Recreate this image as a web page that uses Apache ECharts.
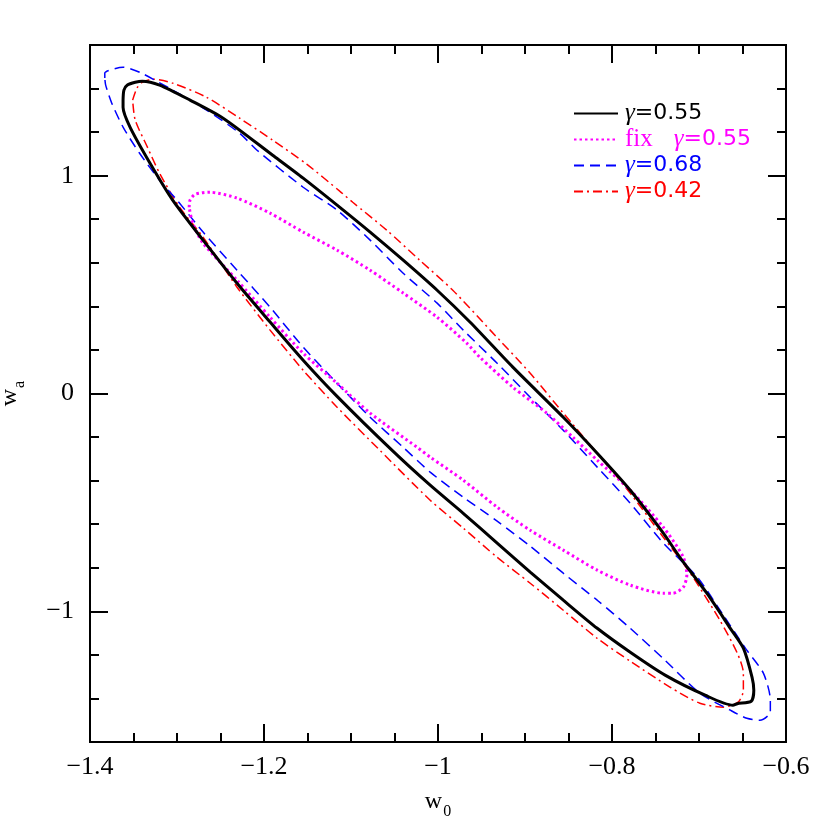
<!DOCTYPE html>
<html>
<head>
<meta charset="utf-8">
<script src="https://cdn.jsdelivr.net/npm/echarts@6/dist/echarts.min.js"></script>
<style>
  html, body { margin: 0; padding: 0; background: #fff; }
  #chart { width: 830px; height: 830px; }
</style>
</head>
<body>
<div id="chart"></div>
<script>
// contour labels (legend order)
const names = ['γ=0.55', 'fix γ=0.55', 'γ=0.68', 'γ=0.42']
const colors = ['#000000', '#ff00ff', '#0000ff', '#ff0000']

// gamma = 0.55 (solid black)
const g055_w0 = [-1.362, -1.361, -1.357, -1.348, -1.340, -1.320, -1.285, -1.247, -1.190, -1.155, -1.116, -1.078, -1.040, -1.001, -0.963, -0.914, -0.856, -0.817, -0.779, -0.741, -0.722, -0.691, -0.664, -0.649, -0.639, -0.637, -0.640, -0.656, -0.661, -0.693, -0.739, -0.779, -0.817, -0.856, -0.894, -0.932, -0.971, -1.009, -1.053, -1.116, -1.155, -1.193, -1.231, -1.270, -1.305, -1.331, -1.354, -1.362, -1.362]
const g055_wa = [1.347, 1.393, 1.416, 1.429, 1.434, 1.416, 1.347, 1.264, 1.094, 0.989, 0.865, 0.741, 0.612, 0.474, 0.327, 0.121, -0.109, -0.274, -0.444, -0.641, -0.752, -0.917, -1.078, -1.169, -1.303, -1.362, -1.413, -1.424, -1.431, -1.385, -1.293, -1.188, -1.078, -0.949, -0.820, -0.687, -0.550, -0.421, -0.260, -0.013, 0.153, 0.328, 0.506, 0.704, 0.888, 1.057, 1.223, 1.314, 1.347]

// fixed gamma = 0.55 (dotted magenta)
const fix_w0 = [-1.286, -1.285, -1.279, -1.262, -1.231, -1.193, -1.155, -1.116, -1.078, -1.040, -1.001, -0.967, -0.952, -0.914, -0.875, -0.845, -0.817, -0.779, -0.741, -0.718, -0.714, -0.718, -0.730, -0.741, -0.779, -0.817, -0.856, -0.894, -0.932, -0.971, -1.009, -1.024, -1.078, -1.116, -1.155, -1.193, -1.231, -1.270, -1.282, -1.286]
const fix_wa = [0.855, 0.888, 0.915, 0.924, 0.897, 0.828, 0.741, 0.658, 0.566, 0.461, 0.350, 0.231, 0.167, 0.029, -0.090, -0.201, -0.306, -0.444, -0.614, -0.752, -0.834, -0.889, -0.917, -0.917, -0.880, -0.811, -0.719, -0.628, -0.522, -0.398, -0.292, -0.247, -0.090, 0.047, 0.185, 0.350, 0.520, 0.690, 0.782, 0.855]

// gamma = 0.68 (dashed blue)
const g068_w0 = [-1.383, -1.383, -1.362, -1.343, -1.305, -1.266, -1.228, -1.208, -1.155, -1.116, -1.078, -1.040, -1.001, -0.971, -0.932, -0.894, -0.856, -0.817, -0.779, -0.741, -0.702, -0.672, -0.645, -0.626, -0.618, -0.618, -0.630, -0.645, -0.664, -0.699, -0.739, -0.779, -0.817, -0.856, -0.894, -0.932, -0.971, -1.009, -1.040, -1.078, -1.116, -1.155, -1.193, -1.231, -1.270, -1.300, -1.320, -1.343, -1.362, -1.375, -1.382, -1.383]
const g068_wa = [1.448, 1.471, 1.498, 1.475, 1.393, 1.301, 1.195, 1.117, 0.947, 0.842, 0.704, 0.552, 0.415, 0.291, 0.139, -0.017, -0.169, -0.338, -0.504, -0.687, -0.843, -1.018, -1.179, -1.284, -1.408, -1.463, -1.500, -1.491, -1.454, -1.376, -1.225, -1.078, -0.949, -0.825, -0.701, -0.586, -0.476, -0.361, -0.247, -0.109, 0.047, 0.213, 0.396, 0.566, 0.741, 0.888, 0.979, 1.103, 1.223, 1.333, 1.416, 1.448]

// gamma = 0.42 (dash-dot red)
const g042_w0 = [-1.351, -1.346, -1.340, -1.328, -1.305, -1.266, -1.228, -1.190, -1.151, -1.113, -1.098, -1.059, -1.021, -0.983, -0.940, -0.894, -0.856, -0.817, -0.779, -0.741, -0.710, -0.676, -0.656, -0.649, -0.649, -0.655, -0.672, -0.699, -0.733, -0.779, -0.817, -0.856, -0.894, -0.932, -0.971, -1.009, -1.067, -1.116, -1.155, -1.193, -1.231, -1.270, -1.297, -1.320, -1.334, -1.348, -1.351]
const g042_wa = [1.347, 1.402, 1.429, 1.443, 1.425, 1.360, 1.264, 1.163, 1.053, 0.929, 0.878, 0.750, 0.612, 0.474, 0.291, 0.093, -0.090, -0.274, -0.458, -0.660, -0.825, -1.041, -1.192, -1.284, -1.362, -1.417, -1.440, -1.422, -1.349, -1.229, -1.124, -0.995, -0.871, -0.752, -0.618, -0.490, -0.260, -0.063, 0.107, 0.291, 0.488, 0.718, 0.855, 1.011, 1.131, 1.255, 1.347]

// axis ticks
const xTicks = [-1.4, -1.2, -1.0, -0.8, -0.6]
const yMajor = [-1, 0, 1]
const yMinor = [-1.4, -1.2, -0.8, -0.6, -0.4, -0.2, 0.2, 0.4, 0.6, 0.8, 1.2, 1.4]

const zip = (xs, ys) => xs.map((x, i) => [x, ys[i]])
const numFont = 'Liberation Serif'
const minus = (v) => String(Math.round(v * 10) / 10).replace('-', '\u2212')

const lineStyles = [
  { color: colors[0], width: 3, type: 'solid' },
  { color: colors[1], width: 3, type: [2.5, 3] },
  { color: colors[2], width: 1.5, type: [10, 6] },
  { color: colors[3], width: 1.5, type: [9, 4, 2, 4] }
]
const curves = [zip(g055_w0, g055_wa), zip(fix_w0, fix_wa), zip(g068_w0, g068_wa), zip(g042_w0, g042_wa)]

const axisLine = { show: true, onZero: false, lineStyle: { color: '#000', width: 2 } }
const tick = (len, values) => ({ show: true, inside: true, length: len, customValues: values, lineStyle: { color: '#000', width: 2 } })

const xBase = (pos, showLabel) => ({
  type: 'value',
  position: pos,
  min: -1.4,
  max: -0.6,
  interval: 0.2,
  axisLine,
  axisTick: { show: true, inside: true, length: 18, lineStyle: { color: '#000', width: 2 } },
  minorTick: { show: true, splitNumber: 4, length: 9, lineStyle: { color: '#000', width: 2 } },
  splitLine: { show: false },
  axisLabel: {
    show: showLabel,
    customValues: xTicks,
    margin: 12,
    fontFamily: numFont,
    fontSize: 26,
    color: '#000',
    formatter: minus
  }
})

const yBase = (pos, len, values, showLabel) => ({
  type: 'value',
  position: pos,
  min: -1.6,
  max: 1.6,
  interval: 0.2,
  axisLine,
  axisTick: tick(len, values),
  splitLine: { show: false },
  axisLabel: {
    show: showLabel,
    customValues: yMajor,
    margin: 16,
    fontFamily: numFont,
    fontSize: 26,
    color: '#000',
    formatter: minus
  }
})

const subRich = {
  w: { fontFamily: numFont, fontSize: 24, color: '#000', lineHeight: 30, verticalAlign: 'top' },
  s: { fontFamily: numFont, fontSize: 16, color: '#000', lineHeight: 30, verticalAlign: 'bottom', padding: [12, 0, 0, 1] }
}

const xAxes = [xBase('bottom', true), xBase('top', false)]
xAxes[0].name = '{w|w}{s|0}'
xAxes[0].nameLocation = 'middle'
xAxes[0].nameGap = 48
xAxes[0].nameTextStyle = { rich: subRich }

const yAxes = [
  yBase('left', 18, yMajor, true),
  yBase('left', 9, yMinor, false),
  yBase('right', 18, yMajor, false),
  yBase('right', 9, yMinor, false)
]
yAxes[0].name = '{w|w}{s|a}'
yAxes[0].nameLocation = 'middle'
yAxes[0].nameGap = 62
yAxes[0].nameRotate = 90
yAxes[0].nameTextStyle = { rich: subRich }

const legendRich = {
  g: { fontFamily: numFont, fontStyle: 'italic', fontSize: 25, lineHeight: 20 },
  f: { fontFamily: numFont, fontSize: 25, lineHeight: 20 }
}

const chart = echarts.init(document.getElementById('chart'), null, { renderer: 'canvas' })
chart.setOption({
  animation: false,
  backgroundColor: '#fff',
  grid: { left: 90, top: 45, width: 696, height: 697, containLabel: false, outerBoundsMode: 'none' },
  xAxis: xAxes,
  yAxis: yAxes,
  legend: {
    orient: 'vertical',
    left: 568,
    top: 96,
    itemWidth: 44,
    itemHeight: 14,
    itemGap: 1,
    itemStyle: { opacity: 0 },
    formatter: (name) => name.replace('fix ', '{f|fix}   ').replace('γ', '{g|γ}'),
    textStyle: {
      fontFamily: 'DejaVu Sans',
      fontSize: 22,
      lineHeight: 20,
      padding: [0, 0, 0, 2],
      rich: legendRich
    },
    data: names.map((n, i) => ({ name: n, textStyle: { color: colors[i] } }))
  },
  series: names.map((n, i) => ({
    name: n,
    type: 'line',
    xAxisIndex: 0,
    yAxisIndex: 0,
    data: curves[i],
    symbol: 'none',
    smooth: 0.25,
    color: colors[i],
    lineStyle: lineStyles[i],
    z: 4 - i
  }))
})
</script>
</body>
</html>
